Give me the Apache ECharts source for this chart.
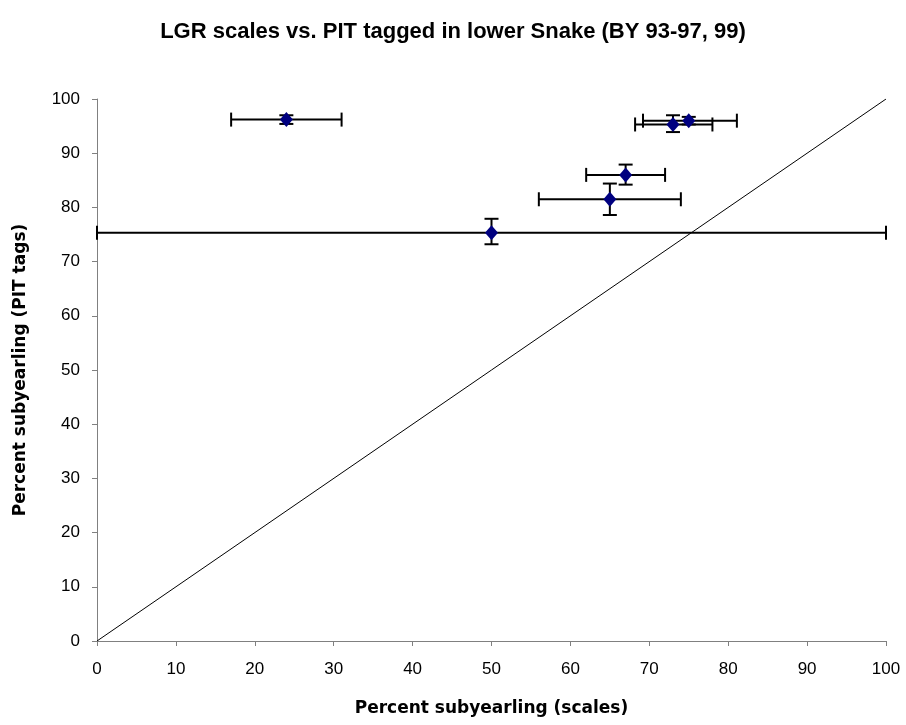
<!DOCTYPE html>
<html>
<head>
<meta charset="utf-8">
<script src="https://cdn.jsdelivr.net/npm/echarts@6/dist/echarts.min.js"></script>
<style>
  html, body { margin: 0; padding: 0; background: #fff; }
  #chart { width: 906px; height: 725px; }
</style>
</head>
<body>
<div id="chart"></div>
<script>
// point estimates (scales vs. PIT tags)
const xVals = [24, 73, 75, 67, 65, 50];
const yVals = [96.2, 95.3, 96.0, 86.0, 81.5, 75.3];
// horizontal error bar ends
const xLow = [17, 68.2, 69.2, 62, 56, 0];
const xHigh = [31, 78, 81.1, 72, 74, 100];
// vertical error bar ends
const yLow = [95.4, 93.9, 95.3, 84.2, 78.6, 73.2];
const yHigh = [97.0, 97.0, 96.7, 87.9, 84.4, 77.9];
// 1:1 line
const diagonal = [[0, 0], [100, 100]];

const points = xVals.map((x, i) => [x, yVals[i]]);
const errData = xVals.map((x, i) => [x, yVals[i], xLow[i], xHigh[i], yLow[i], yHigh[i]]);

const font = 'Liberation Sans, Arial, sans-serif';
const nameFont = 'DejaVu Sans, sans-serif';
const chart = echarts.init(document.getElementById('chart'));

const capHalf = 7;

chart.setOption({
  animation: false,
  title: {
    text: 'LGR scales vs. PIT tagged in lower Snake (BY 93-97, 99)',
    left: 'center',
    top: 16,
    textStyle: { fontFamily: font, fontSize: 22, fontWeight: 'bold', color: '#000' }
  },
  grid: { left: 97, right: 20, top: 99, bottom: 84 },
  xAxis: {
    type: 'value',
    min: 0, max: 100, interval: 10,
    name: 'Percent subyearling (scales)',
    nameLocation: 'middle',
    nameGap: 59,
    nameTextStyle: { fontFamily: nameFont, fontSize: 17, fontWeight: 'bold', color: '#000' },
    axisLine: { show: true, lineStyle: { color: '#808080', width: 1 } },
    axisTick: { show: true, length: 5, lineStyle: { color: '#808080' } },
    axisLabel: { fontFamily: font, fontSize: 17, color: '#000', margin: 20 },
    splitLine: { show: false }
  },
  yAxis: {
    type: 'value',
    min: 0, max: 100, interval: 10,
    name: 'Percent subyearling (PIT tags)',
    nameLocation: 'middle',
    nameGap: 68,
    nameTextStyle: { fontFamily: nameFont, fontSize: 17, fontWeight: 'bold', color: '#000' },
    axisLine: { show: true, lineStyle: { color: '#808080', width: 1 } },
    axisTick: { show: true, length: 5, lineStyle: { color: '#808080' } },
    axisLabel: { fontFamily: font, fontSize: 17, color: '#000', margin: 17 },
    splitLine: { show: false }
  },
  series: [
    {
      type: 'line',
      data: diagonal,
      symbol: 'none',
      lineStyle: { color: '#000', width: 1 },
      silent: true
    },
    {
      type: 'custom',
      data: errData,
      renderItem: function (params, api) {
        const x = api.value(0), y = api.value(1);
        const l = api.coord([api.value(2), y]);
        const r = api.coord([api.value(3), y]);
        const b = api.coord([x, api.value(4)]);
        const t = api.coord([x, api.value(5)]);
        const style = { stroke: '#000', lineWidth: 2 };
        const seg = (x1, y1, x2, y2) => ({ type: 'line', shape: { x1, y1, x2, y2 }, style });
        return {
          type: 'group',
          children: [
            seg(l[0], l[1], r[0], r[1]),
            seg(l[0], l[1] - capHalf, l[0], l[1] + capHalf),
            seg(r[0], r[1] - capHalf, r[0], r[1] + capHalf),
            seg(b[0], b[1], t[0], t[1]),
            seg(b[0] - capHalf, b[1], b[0] + capHalf, b[1]),
            seg(t[0] - capHalf, t[1], t[0] + capHalf, t[1])
          ]
        };
      },
      z: 3
    },
    {
      type: 'scatter',
      data: points,
      symbol: 'diamond',
      symbolSize: [13, 15],
      itemStyle: { color: '#000080', opacity: 1 },
      z: 4
    }
  ]
});
</script>
</body>
</html>
